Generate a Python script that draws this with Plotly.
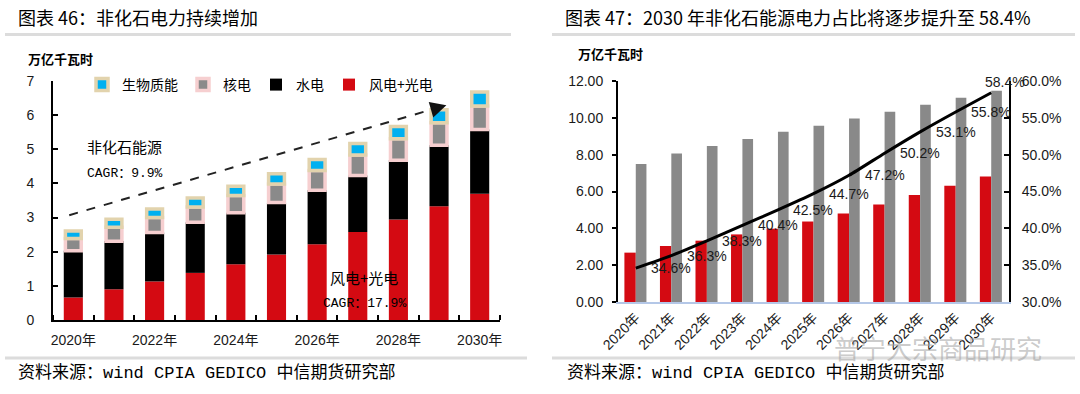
import plotly.graph_objects as go
import numpy as np

# ---------------- data ----------------
years = ["2020年", "2021年", "2022年", "2023年", "2024年", "2025年",
         "2026年", "2027年", "2028年", "2029年", "2030年"]
left_tick_years = ["2020年", "2022年", "2024年", "2026年", "2028年", "2030年"]

# left chart (万亿千瓦时), stacked
wind_solar = [0.66, 0.90, 1.13, 1.38, 1.63, 1.92, 2.22, 2.58, 2.94, 3.33, 3.70]
hydro      = [1.37, 1.41, 1.43, 1.48, 1.51, 1.52, 1.58, 1.65, 1.74, 1.79, 1.88]
nuclear    = [0.36, 0.41, 0.44, 0.45, 0.51, 0.54, 0.58, 0.60, 0.63, 0.66, 0.69]
biomass    = [0.22, 0.23, 0.25, 0.26, 0.27, 0.30, 0.32, 0.34, 0.36, 0.38, 0.41]

# right chart
nonfossil_gen = [2.68, 3.04, 3.33, 3.67, 3.98, 4.37, 4.81, 5.30, 5.81, 6.31, 6.82]
total_gen     = [7.49, 8.07, 8.47, 8.85, 9.25, 9.57, 9.97, 10.33, 10.71, 11.09, 11.47]
share_pct     = [34.6, 36.3, 38.3, 40.4, 42.5, 44.7, 47.2, 50.2, 53.1, 55.8, 58.4]

# trend arrow (left chart, data coords)
arrow_start = (-0.1, 3.07)
arrow_end = (9.18, 6.29)

W, H = 1080, 394
def px(x): return x / W
def py(y): return 1 - y / H

RED = "#d40a12"
GRAY = "#898989"
CJK = "Noto Sans CJK SC"
SANS = "Liberation Sans, Noto Sans CJK SC"
MONO = "Liberation Mono, Noto Sans CJK SC"

xi = np.arange(len(years))
b1 = np.array(wind_solar)
b2 = b1 + np.array(hydro)
b3 = b2 + np.array(nuclear)

fig = go.Figure()

# ---- left: stacked bars ----
fig.add_trace(go.Bar(x=xi, y=wind_solar, base=0, width=0.47, name="风电+光电",
                     marker=dict(color=RED, line=dict(width=0)),
                     xaxis="x", yaxis="y", legendrank=4))
fig.add_trace(go.Bar(x=xi, y=hydro, base=b1, width=0.47, name="水电",
                     marker=dict(color="#000000", line=dict(width=0)),
                     xaxis="x", yaxis="y", legendrank=3))
fig.add_trace(go.Bar(x=xi, y=nuclear, base=b2, width=0.39, name="核电",
                     marker=dict(color="#8a8a8a", line=dict(width=3.5, color="#f6cfd0")),
                     xaxis="x", yaxis="y", legendrank=2))
fig.add_trace(go.Bar(x=xi, y=biomass, base=b3, width=0.39, name="生物质能",
                     marker=dict(color="#00b0f0", line=dict(width=3.5, color="#e2d3ad")),
                     xaxis="x", yaxis="y", legendrank=1))

# dashed trend line
slope = (arrow_end[1] - arrow_start[1]) / (arrow_end[0] - arrow_start[0])
fig.add_trace(go.Scatter(x=[arrow_start[0], arrow_end[0] - 0.3],
                         y=[arrow_start[1], arrow_end[1] - 0.3 * slope],
                         mode="lines", line=dict(color="#222", width=2, dash="dash"),
                         showlegend=False, hoverinfo="skip", xaxis="x", yaxis="y"))

# ---- right: grouped bars + share line ----
fig.add_trace(go.Bar(x=years, y=nonfossil_gen, width=0.32, offset=-0.32,
                     marker=dict(color=RED, line=dict(width=0)),
                     showlegend=False, xaxis="x2", yaxis="y3"))
fig.add_trace(go.Bar(x=years, y=total_gen, width=0.30, offset=0.0,
                     marker=dict(color=GRAY, line=dict(width=0)),
                     showlegend=False, xaxis="x2", yaxis="y3"))
fig.add_trace(go.Scatter(x=years, y=share_pct, mode="lines",
                         line=dict(color="black", width=3, shape="spline", smoothing=0.6),
                         showlegend=False, xaxis="x2", yaxis="y4"))

annotations = []
# share labels
for i, (yr, v) in enumerate(zip(years, share_pct)):
    last = i == len(years) - 1
    annotations.append(dict(x=yr, y=v, xref="x2", yref="y4", text=f"{v:.1f}%",
                            showarrow=False, xshift=14 if last else 35.5,
                            yshift=11 if last else 0,
                            font=dict(family=SANS, size=14, color="#1a1a1a")))

# arrow head
annotations.append(dict(x=arrow_end[0], y=arrow_end[1], xref="x", yref="y",
                        ax=arrow_end[0] - 0.35, ay=arrow_end[1] - 0.35 * slope,
                        axref="x", ayref="y", showarrow=True, arrowhead=2,
                        arrowsize=1.6, arrowwidth=2, arrowcolor="#111", text=""))

def txt(x, y, s, size, family=CJK, color="black", anchor="left", bold=False):
    if bold:
        s = f"<b>{s}</b>"
    annotations.append(dict(x=px(x), y=py(y), xref="paper", yref="paper", text=s,
                            showarrow=False, xanchor=anchor, yanchor="middle",
                            font=dict(family=family, size=size, color=color)))

txt(16, 17, "图表 46：非化石电力持续增加", 18)
txt(563, 17, "图表 47：2030 年非化石能源电力占比将逐步提升至 58.4%", 18)
txt(26, 59, "万亿千瓦时", 13, bold=True)
txt(576, 53, "万亿千瓦时", 13, bold=True)
txt(85, 147, "非化石能源", 15)
txt(85, 173, "CAGR：9.9%", 13, family=MONO)
txt(328, 277, "风电+光电", 15)
txt(321, 303, "CAGR：17.9%", 13, family=MONO)
txt(16, 373, "资料来源：wind CPIA GEDICO 中信期货研究部", 17, family=MONO)
txt(565, 373, "资料来源：wind CPIA GEDICO 中信期货研究部", 17, family=MONO)
txt(832, 347, "普宁大宗商品研究", 26, color="rgba(160,160,160,0.55)")

shapes = []
def hline(x0, x1, y, color="#dcdcdc", w=3):
    shapes.append(dict(type="line", xref="paper", yref="paper",
                       x0=px(x0), x1=px(x1), y0=py(y), y1=py(y),
                       line=dict(color=color, width=w)))
hline(5, 511, 34.5)
hline(552, 1075, 34.5)
hline(5, 527, 358)
hline(552, 1075, 358)

fig.update_layout(
    width=W, height=H, autosize=False,
    margin=dict(l=0, r=0, t=0, b=0, autoexpand=False),
    paper_bgcolor="white", plot_bgcolor="white",
    barmode="overlay",
    font=dict(family=SANS, size=14, color="black"),
    showlegend=True,
    legend=dict(orientation="h", x=px(82), y=py(85), xanchor="left", yanchor="middle",
                font=dict(family=CJK, size=14, color="black"),
                bgcolor="rgba(0,0,0,0)", itemwidth=30, traceorder="normal"),
    annotations=annotations,
    shapes=shapes,
    xaxis=dict(domain=[px(53), px(500)], range=[-0.5, 10.5], anchor="y", automargin=False,
               tickmode="array", tickvals=[0, 2, 4, 6, 8, 10], ticktext=left_tick_years,
               ticks="", ticklen=0, showline=True, linecolor="black", linewidth=2,
               showgrid=False, zeroline=False, ticklabelstandoff=6,
               tickfont=dict(family=SANS, size=14, color="#1a1a1a"),
               minor=dict(tickvals=[i - 0.5 for i in range(12)], ticks="inside",
                          ticklen=5, tickwidth=2, tickcolor="black", showgrid=False)),
    yaxis=dict(domain=[py(320), py(81)], range=[0, 7], anchor="x", dtick=1, automargin=False,
               ticks="inside", ticklen=5, tickwidth=2, tickcolor="black",
               showline=True, linecolor="black", linewidth=2,
               showgrid=False, zeroline=False, ticklabelstandoff=14,
               tickfont=dict(family=SANS, size=14, color="#1a1a1a")),
    xaxis2=dict(domain=[px(618), px(1009)], type="category", range=[-0.5, 10.5],
                anchor="y3", tickangle=-45, ticks="", showline=True, automargin=False,
                linecolor="#b4c7e7", linewidth=2, showgrid=False, zeroline=False,
                tickfont=dict(family=SANS, size=14, color="#1a1a1a")),
    yaxis3=dict(domain=[py(302), py(81)], range=[0, 12], anchor="x2", dtick=2, automargin=False,
                tickformat=".2f", ticks="outside", ticklen=4, tickwidth=2,
                tickcolor="black", showline=True, linecolor="black", linewidth=2,
                showgrid=False, zeroline=False, ticklabelstandoff=6,
                tickfont=dict(family=SANS, size=14, color="#1a1a1a")),
    yaxis4=dict(overlaying="y3", side="right", anchor="x2", range=[30, 60], dtick=5,
                automargin=False,
                tickformat=".1f", ticksuffix="%", ticks="inside", ticklen=5, tickwidth=2,
                tickcolor="black", showline=True, linecolor="black", linewidth=2,
                showgrid=False, zeroline=False, ticklabelstandoff=8,
                tickfont=dict(family=SANS, size=14, color="#1a1a1a")),
)

fig.write_html("out.html", config={"displayModeBar": False},
               post_script="document.body.style.margin='0';document.body.style.padding='0';")
